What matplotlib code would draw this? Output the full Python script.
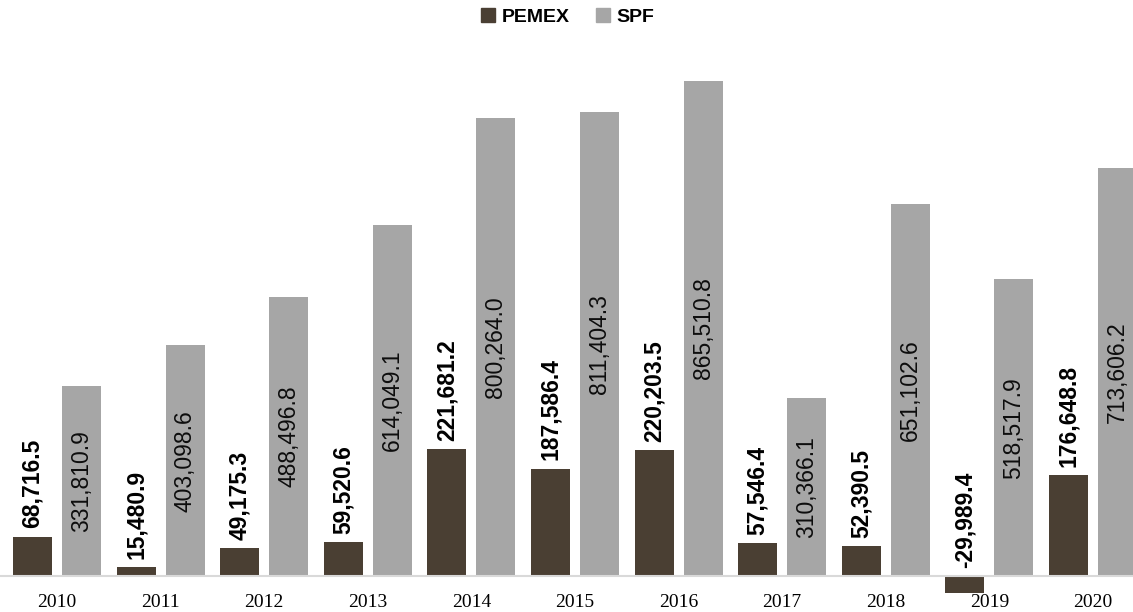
import matplotlib.pyplot as plt
import numpy as np
from matplotlib.lines import Line2D

years = ['2010', '2011', '2012', '2013', '2014', '2015', '2016', '2017', '2018', '2019', '2020']
pemex = [68716.5, 15480.9, 49175.3, 59520.6, 221681.2, 187586.4, 220203.5, 57546.4, 52390.5, -29989.4, 176648.8]
spf = [331810.9, 403098.6, 488496.8, 614049.1, 800264.0, 811404.3, 865510.8, 310366.1, 651102.6, 518517.9, 713606.2]

c_pemex = '#4a3f33'
c_spf = '#a6a6a6'
sans = ['Liberation Sans', 'DejaVu Sans']

fig = plt.figure(figsize=(11.33, 6.12), dpi=100)
ax = fig.add_axes([0, 36 / 612, 1, 536 / 612])

x = np.arange(len(years))
w = 0.376
off = 0.236
b1 = ax.bar(x - off, pemex, w, color=c_pemex, clip_on=False, zorder=2)
b2 = ax.bar(x + off, spf, w, color=c_spf, zorder=2)

# PEMEX labels above the bar (or above zero when negative)
for xi, v in zip(x, pemex):
    ax.annotate(f'{v:,.1f}', xy=(xi - off, max(v, 0)), xytext=(0, 6), textcoords='offset points',
                rotation=90, ha='center', va='bottom', fontsize=16.5, fontweight='bold',
                family=sans, color='black')

# SPF labels centered in the bar
for xi, v in zip(x, spf):
    ax.text(xi + off, v / 2, f'{v:,.1f}', rotation=90, ha='center', va='center',
            fontsize=16.5, family=sans, color='#0d0d0d')

ax.set_xlim(-0.55, 10.386)
ax.set_ylim(0, 937200)
for s in ['top', 'left', 'right']:
    ax.spines[s].set_visible(False)
ax.spines['bottom'].set_color('#d9d9d9')
ax.spines['bottom'].set_linewidth(1.5)
ax.set_yticks([])
ax.set_xticks(x)
ax.set_xticklabels(years, family=['Liberation Serif', 'DejaVu Serif'], fontsize=14)
ax.tick_params(axis='x', length=0, pad=13)

handles = [Line2D([], [], marker='s', linestyle='', color=c_pemex, markersize=10),
           Line2D([], [], marker='s', linestyle='', color=c_spf, markersize=10)]
fig.legend(handles, ['PEMEX', 'SPF'], loc='upper center', bbox_to_anchor=(0.5, 1.015), ncol=2,
           frameon=False, handletextpad=0.2, columnspacing=1.2, handlelength=1.0,
           prop={'family': sans, 'weight': 'bold', 'size': 14})

plt.savefig('out.png', dpi=100)
